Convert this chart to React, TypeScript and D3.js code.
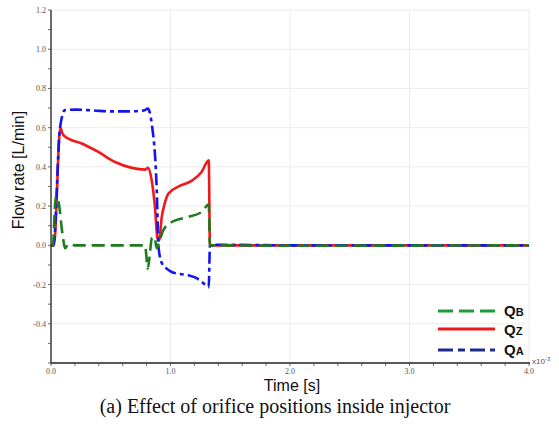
import React from "react";
import * as d3 from "d3";

// time in ms (axis ×10^-3 s), flow rate in L/min
const qaT = [0, 0.02, 0.075, 0.117, 0.2, 0.35, 0.5, 0.65, 0.78, 0.81, 0.843, 0.885, 0.9, 0.927, 0.97, 1.01, 1.08, 1.15, 1.21, 1.26, 1.32, 1.33, 1.36, 2.0, 4.0];
const qaV = [0, 0, 0.597, 0.69, 0.692, 0.688, 0.683, 0.683, 0.688, 0.697, 0.62, 0.28, -0.01, -0.09, -0.12, -0.136, -0.146, -0.153, -0.165, -0.185, -0.213, 0.0, 0.003, 0.0, 0.0];

const qzT = [0, 0.025, 0.078, 0.1, 0.145, 0.257, 0.396, 0.536, 0.676, 0.79, 0.81, 0.843, 0.87, 0.89, 0.905, 0.927, 0.95, 0.983, 1.067, 1.18, 1.26, 1.32, 1.33, 1.36, 4.0];
const qzV = [0, 0, 0.6, 0.565, 0.544, 0.519, 0.476, 0.425, 0.395, 0.386, 0.395, 0.33, 0.195, 0.04, 0.026, 0.145, 0.21, 0.264, 0.3, 0.33, 0.374, 0.434, 0.0, 0.0, 0.0];

const qbT = [0, 0.015, 0.04, 0.06, 0.1, 0.117, 0.145, 0.2, 0.787, 0.81, 0.83, 0.843, 0.866, 0.885, 0.905, 0.94, 1.01, 1.15, 1.26, 1.32, 1.33, 1.36, 2.0, 4.0];
const qbV = [0, 0, 0.25, 0.23, 0.04, -0.015, 0.005, 0.0, 0.0, -0.119, -0.026, 0.034, 0.042, -0.015, 0.017, 0.077, 0.119, 0.145, 0.17, 0.208, 0.0, 0.0, -0.002, 0.0];

const xMajor = [0, 1, 2, 3, 4];
const xLabels = ["0.0", "1.0", "2.0", "3.0", "4.0"];
const yMajor = [-0.4, -0.2, 0, 0.2, 0.4, 0.6, 0.8, 1.0, 1.2];
const yLabels = ["-0.4", "-0.2", "0.0", "0.2", "0.4", "0.6", "0.8", "1.0", "1.2"];

const x = d3.scaleLinear().domain([0, 4]).range([51, 529]);
const y = d3.scaleLinear().domain([-0.6, 1.2]).range([363, 10]);

const line = d3
  .line<[number, number]>()
  .x((d) => x(d[0]))
  .y((d) => y(d[1]))
  .curve(d3.curveMonotoneX);

const pts = (t: number[], v: number[]) => t.map((ti, i) => [ti, v[i]] as [number, number]);

export default function App() {
  const xMinor = d3.range(0, 4.0001, 0.2);
  const yMinor = d3.range(-0.6, 1.2001, 0.1);
  return (
    <svg width={559} height={424} style={{ position: "absolute", left: 0, top: 0, background: "#fff" }}>
      {/* grid */}
      {yMajor.map((v, i) => (
        <line key={"gy" + i} x1={51} x2={529} y1={y(v)} y2={y(v)} stroke="#ececec" strokeWidth={1} />
      ))}
      {xMajor.map((v, i) => (
        <line key={"gx" + i} x1={x(v)} x2={x(v)} y1={10} y2={363} stroke="#ececec" strokeWidth={1} />
      ))}
      {/* series */}
      <path d={line(pts(qzT, qzV)) || ""} fill="none" stroke="#f01818" strokeWidth={2.6} />
      <path d={line(pts(qaT, qaV)) || ""} fill="none" stroke="#1414f0" strokeWidth={2.6} strokeDasharray="12 4 4 4" />
      <path d={line(pts(qbT, qbV)) || ""} fill="none" stroke="#1e7a1e" strokeWidth={2.6} strokeDasharray="13 6" />
      {/* axes */}
      <line x1={51} x2={51} y1={10} y2={363} stroke="#222" strokeWidth={1.3} />
      <line x1={51} x2={530} y1={363} y2={363} stroke="#222" strokeWidth={1.3} />
      {xMinor.map((v, i) => (
        <line key={"xt" + i} x1={x(v)} x2={x(v)} y1={363} y2={366} stroke="#444" strokeWidth={0.8} />
      ))}
      {yMinor.map((v, i) => (
        <line key={"yt" + i} x1={48} x2={51} y1={y(v)} y2={y(v)} stroke="#444" strokeWidth={0.8} />
      ))}
      {xMajor.map((v, i) => (
        <text key={"xl" + i} x={x(v)} y={374} fontSize={8} fontFamily="Liberation Serif" fill="#555" textAnchor="middle">
          {xLabels[i]}
        </text>
      ))}
      {yMajor.map((v, i) => (
        <text key={"yl" + i} x={46} y={y(v) + 3} fontSize={8} fontFamily="Liberation Serif" fill="#555" textAnchor="end">
          {yLabels[i]}
        </text>
      ))}
      <text x={532} y={364} fontSize={8} fontFamily="Liberation Sans" fill="#555">
        x10<tspan dy={-3} fontSize={6}>-3</tspan>
      </text>
      {/* titles */}
      <text x={292} y={391} fontSize={16} fontFamily="Liberation Sans" fill="#111" textAnchor="middle">
        Time [s]
      </text>
      <text transform="translate(24,170) rotate(-90)" fontSize={16} fontFamily="Liberation Sans" fill="#111" textAnchor="middle">
        Flow rate [L/min]
      </text>
      <text x={275} y={413} fontSize={20} fontFamily="Liberation Serif" fill="#111" textAnchor="middle">
        (a) Effect of orifice positions inside injector
      </text>
      {/* legend */}
      <line x1={438} x2={495} y1={311} y2={311} stroke="#1e9a3c" strokeWidth={3} strokeDasharray="15 6" />
      <line x1={438} x2={495} y1={329} y2={329} stroke="#f01818" strokeWidth={3} />
      <line x1={438} x2={495} y1={350} y2={350} stroke="#1c2a8c" strokeWidth={3} strokeDasharray="15 5 7 5" />
      {[["Q", "B", 316], ["Q", "Z", 335], ["Q", "A", 355]].map(([a, b, yy], i) => (
        <text key={"lg" + i} x={504} y={yy as number} fontFamily="Liberation Sans" fontWeight="bold" fill="#111" fontSize={15}>
          {a}
          <tspan fontSize={11}>{b}</tspan>
        </text>
      ))}
    </svg>
  );
}
